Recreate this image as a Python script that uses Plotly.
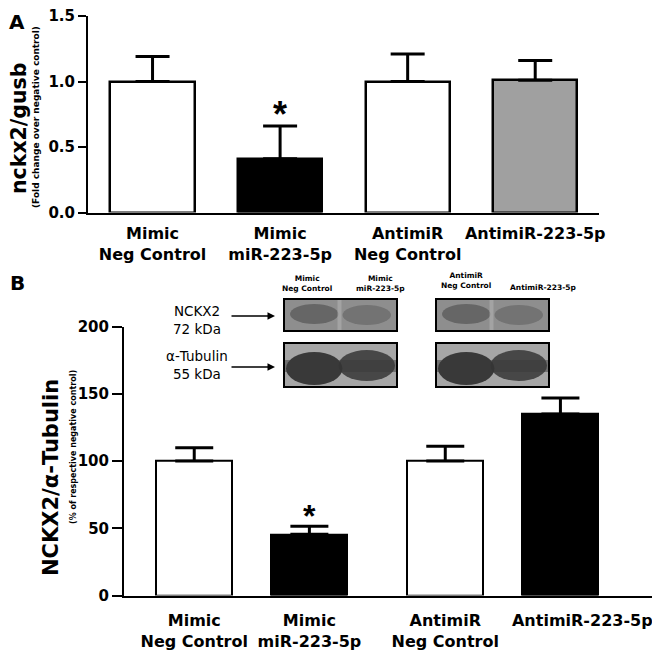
import plotly.graph_objects as go

# panel A: qPCR
cats_a = ["Mimic<br>Neg Control", "Mimic<br>miR-223-5p", "AntimiR<br>Neg Control", "AntimiR-223-5p"]
vals_a = [1.0, 0.41, 1.0, 1.01]
err_a = [0.19, 0.25, 0.21, 0.15]
sig_a = ["", "*", "", ""]

# panel B: western blot quantification
cats_b = ["Mimic<br>Neg Control", "Mimic<br>miR-223-5p", "AntimiR<br>Neg Control", "AntimiR-223-5p"]
vals_b = [100, 45.5, 100, 135]
err_b = [10, 6, 11, 12]
sig_b = ["", "*", "", ""]

blot_lanes = ["Mimic<br>Neg Control", "Mimic<br>miR-223-5p", "AntimiR<br>Neg Control", "AntimiR-223-5p"]

# page body has an 8px margin, so the figure is laid out in reference pixels shifted by 8
OFF = 8
W, H = 660 - OFF, 658 - OFF
FONT = "DejaVu Sans, Verdana, sans-serif"
STAR_FONT = "Liberation Sans, Arial, sans-serif"

def px(x):
    return (x - OFF) / W

def py(y):
    return 1 - (y - OFF) / H

pos_a = [0, 1, 2, 3]
pos_b = [0, 1, 2.18, 3.18]
label_pos_b = [0, 1, 2.18, 3.37]  # last label sits a bit right of its bar

fig = go.Figure()

fig.add_trace(go.Bar(
    x=pos_a, y=vals_a, width=0.66,
    marker=dict(color=["white", "black", "white", "#a0a0a0"], line=dict(color="black", width=2.5)),
    error_y=dict(type="data", array=err_a, arrayminus=[0] * 4, symmetric=False,
                 color="black", thickness=3, width=17),
    xaxis="x", yaxis="y", showlegend=False,
))

fig.add_trace(go.Bar(
    x=pos_b, y=vals_b, width=0.66,
    marker=dict(color=["white", "black", "white", "black"], line=dict(color="black", width=2)),
    error_y=dict(type="data", array=err_b, arrayminus=[0] * 4, symmetric=False,
                 color="black", thickness=3, width=19),
    xaxis="x2", yaxis="y2", showlegend=False,
))

# significance stars
for x, v, e, s in zip(pos_a, vals_a, err_a, sig_a):
    if s:
        fig.add_annotation(x=x, y=v + e, xref="x", yref="y", text="<b>" + s + "</b>", showarrow=False,
                           yshift=12, font=dict(size=36, family=STAR_FONT, color="black"))
for x, v, e, s in zip(pos_b, vals_b, err_b, sig_b):
    if s:
        fig.add_annotation(x=x, y=v + e, xref="x2", yref="y2", text="<b>" + s + "</b>", showarrow=False,
                           yshift=10, font=dict(size=32, family=STAR_FONT, color="black"))

tickfont_y = dict(size=15, family=FONT, color="black", weight="bold")
tickfont_x = dict(size=16, family=FONT, color="black", weight="bold")

fig.update_layout(
    width=W, height=H,
    margin=dict(l=0, r=0, t=0, b=0, pad=0, autoexpand=False),
    paper_bgcolor="white", plot_bgcolor="white",
    bargap=0,
    xaxis=dict(domain=[px(88), px(599)], range=[-0.506, 3.50], tickvals=pos_a, ticktext=cats_a,
               showline=True, linecolor="black", linewidth=2, ticks="", showgrid=False,
               zeroline=False, tickfont=tickfont_x, ticklabelstandoff=5, anchor="y",
               tickangle=0, automargin=False, ticklabeloverflow="allow"),
    yaxis=dict(domain=[py(212.5), py(16)], range=[0, 1.5], tickvals=[0, 0.5, 1.0, 1.5],
               tickformat=".1f", showline=True, linecolor="black", linewidth=2, ticks="outside",
               ticklen=8, tickwidth=2, tickcolor="black", showgrid=False, zeroline=False,
               tickfont=tickfont_y, anchor="x", automargin=False, ticklabeloverflow="allow"),
    xaxis2=dict(domain=[px(124), px(656)], range=[-0.61, 4.01], tickvals=label_pos_b, ticktext=cats_b,
                showline=True, linecolor="black", linewidth=2, ticks="", showgrid=False,
                zeroline=False, tickfont=tickfont_x, ticklabelstandoff=9, anchor="y2",
                tickangle=0, automargin=False, ticklabeloverflow="allow"),
    yaxis2=dict(domain=[py(595.5), py(326.7)], range=[0, 200], tickvals=[0, 50, 100, 150, 200],
                showline=True, linecolor="black", linewidth=2, ticks="outside",
                ticklen=10, tickwidth=2, tickcolor="black", showgrid=False, zeroline=False,
                tickfont=tickfont_y, anchor="x2", automargin=False, ticklabeloverflow="allow"),
)

# panel letters
fig.add_annotation(x=px(17), y=py(22), xref="paper", yref="paper", xanchor="center", yanchor="middle",
                   text="<b>A</b>", showarrow=False, font=dict(size=20, family=FONT, color="black"))
fig.add_annotation(x=px(17), y=py(283), xref="paper", yref="paper", xanchor="center", yanchor="middle",
                   text="<b>B</b>", showarrow=False, font=dict(size=20, family=FONT, color="black"))

# y-axis titles
ytitles = [
    (19, 128, "<b>nckx2/gusb</b>", 20.5),
    (36, 117, "<b>(Fold change over negative control)</b>", 9),
    (51, 477, "<b>NCKX2/α-Tubulin</b>", 21),
    (73, 447, "<b>(% of respective negative control)</b>", 8),
]
for tx, ty, txt, fs in ytitles:
    fig.add_annotation(x=px(tx), y=py(ty), xref="paper", yref="paper", textangle=-90,
                       xanchor="center", yanchor="middle", text=txt, showarrow=False,
                       font=dict(size=fs, family=FONT, color="black"))

# western blot inset (drawn as shapes)
def rect(x0, y0, x1, y1, fill, line_w=0, opacity=1.0, kind="rect"):
    fig.add_shape(type=kind, xref="paper", yref="paper",
                  x0=px(x0), x1=px(x1), y0=py(y1), y1=py(y0),
                  fillcolor=fill, opacity=opacity,
                  line=dict(color="black", width=line_w))

boxes_x = [(284, 397), (436, 549)]
for bx0, bx1 in boxes_x:
    mid = (bx0 + bx1) / 2
    # NCKX2 strip
    rect(bx0, 299, bx1, 331, "#8e8e8e")
    rect(bx0 + 6, 304, mid - 2, 324, "#555555", opacity=0.7, kind="circle")
    rect(mid + 2, 305, bx1 - 6, 325, "#606060", opacity=0.6, kind="circle")
    rect(mid - 3, 299, mid + 1, 331, "#b0b0b0", opacity=0.6)
    rect(bx0, 299, bx1, 331, "rgba(0,0,0,0)", line_w=2)
    # tubulin strip
    rect(bx0, 343, bx1, 387, "#a6a6a6")
    rect(bx0 + 2, 352, mid + 2, 385, "#262626", opacity=0.85, kind="circle")
    rect(mid - 2, 350, bx1 - 2, 381, "#303030", opacity=0.8, kind="circle")
    rect(bx0 + 1, 360, bx1 - 1, 372, "#3a3a3a", opacity=0.5)
    rect(bx0, 343, bx1, 387, "rgba(0,0,0,0)", line_w=2)

lane_x = [307, 380, 466, 543]
lane_y = [283, 283, 281, 287]
for lbl, lx, ly in zip(blot_lanes, lane_x, lane_y):
    fig.add_annotation(x=px(lx), y=py(ly), xref="paper", yref="paper", text="<b>" + lbl + "</b>",
                       showarrow=False, font=dict(size=7.5, family=FONT, color="black"),
                       xanchor="center", yanchor="middle")

fig.add_annotation(x=px(197), y=py(320), xref="paper", yref="paper", text="NCKX2<br>72 kDa",
                   xanchor="center", yanchor="middle",
                   showarrow=False, font=dict(size=13.5, family=FONT, color="black"))
fig.add_annotation(x=px(197), y=py(365), xref="paper", yref="paper", text="α-Tubulin<br>55 kDa",
                   xanchor="center", yanchor="middle",
                   showarrow=False, font=dict(size=13.5, family=FONT, color="black"))
for ay in [316, 367]:
    fig.add_annotation(x=px(275), y=py(ay), ax=-45, ay=0, xref="paper", yref="paper",
                       text="", showarrow=True,
                       arrowhead=2, arrowsize=1, arrowwidth=1.5, arrowcolor="black")

fig.write_html("out.html")
